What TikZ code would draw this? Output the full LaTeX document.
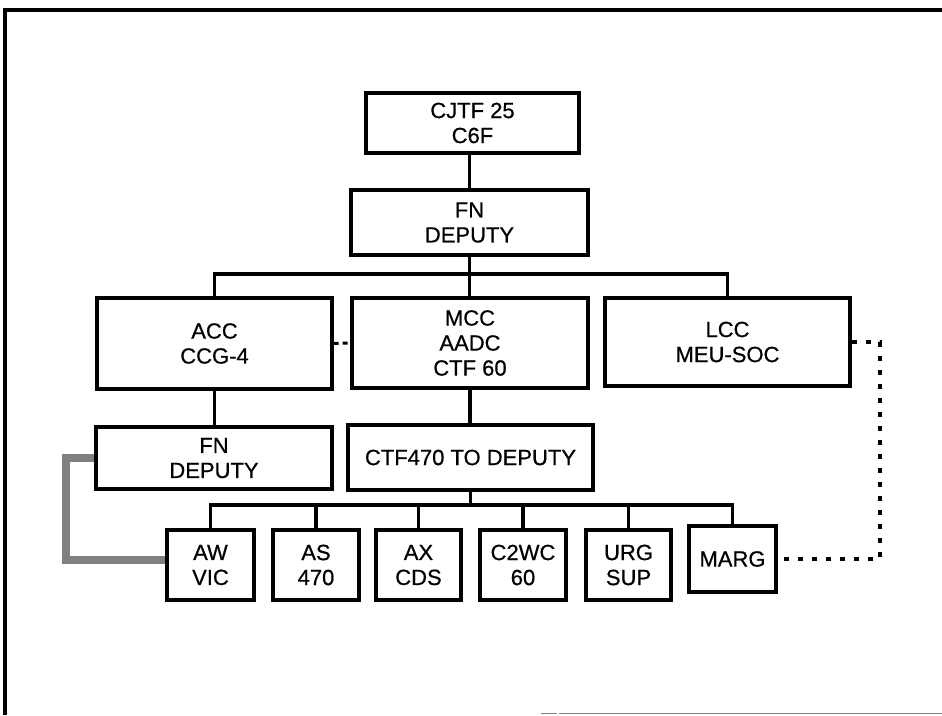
\documentclass[tikz,border=0pt]{standalone}
\usepackage{fontspec}
\setmainfont{Liberation Sans}
\newfontfamily\boxfont[FakeBold=0.6]{Liberation Sans}
\begin{document}
\begin{tikzpicture}[x=1pt,y=-1pt,
  box/.style={draw=black,line width=3.2pt,inner sep=0pt,align=center,
    font=\boxfont\fontsize{22}{25}\selectfont},
  link/.style={draw=black,line width=3.2pt},
  dashlink/.style={draw=black,line width=3pt,dash pattern=on 5pt off 4pt},
  dotlink/.style={draw=black,line width=3.3pt,dash pattern=on 5pt off 9pt},
  graylink/.style={draw=black!50,line width=8pt},
  grayedge/.style={draw=black!70,line width=8pt,dash pattern=on 1.5pt off 1.5pt},
  frameline/.style={draw=black,line width=3.5pt}]
\useasboundingbox (0,0) rectangle (942,715);
% frame
\coordinate (f0) at (5,10);
\coordinate (f1) at (942,10);
\coordinate (f2) at (5,715);
\draw[frameline] (f2) -- (f0) -- (f1);
\coordinate (b0) at (541,713.5);
\coordinate (b1) at (557,713.5);
\coordinate (b2) at (559,713.5);
\coordinate (b3) at (942,713.5);
\draw[gray,line width=1.5pt] (b0) -- (b1) (b2) -- (b3);
% boxes
\node[box,minimum width=213pt,minimum height=60pt] (top) at (472.5,123) {CJTF 25\\C6F};
\node[box,minimum width=237pt,minimum height=65pt] (fn1) at (469.5,222.5) {FN\\DEPUTY};
\node[box,minimum width=235pt,minimum height=91pt] (acc) at (214.5,343.5) {ACC\\CCG-4};
\node[box,minimum width=236pt,minimum height=90pt] (mcc) at (470,343) {MCC\\AADC\\CTF 60};
\node[box,minimum width=245pt,minimum height=88pt] (lcc) at (727.5,342) {LCC\\MEU-SOC};
\node[box,minimum width=236pt,minimum height=62pt] (fn2) at (214,458) {FN\\DEPUTY};
\node[box,minimum width=245pt,minimum height=65pt] (ctf) at (470.5,457.5) {CTF470 TO DEPUTY};
\node[box,minimum width=87pt,minimum height=70pt] (aw) at (210.5,565) {AW\\VIC};
\node[box,minimum width=86pt,minimum height=70pt] (as) at (316,565) {AS\\470};
\node[box,minimum width=85pt,minimum height=70pt] (ax) at (418.5,565) {AX\\CDS};
\node[box,minimum width=86pt,minimum height=70pt] (c2) at (523,565) {C2WC\\60};
\node[box,minimum width=85pt,minimum height=70pt] (urg) at (628.5,565) {URG\\SUP};
\node[box,minimum width=87pt,minimum height=66pt] (marg) at (732.5,559) {MARG};
% tree links
\draw[link] (fn1.north) -- (fn1.north |- top.south);
\coordinate (bus1) at (0,274);
\draw[link] (fn1.south) -- (fn1.south |- mcc.north);
\draw[link] (acc.north) -- (acc.north |- bus1) -- (lcc.north |- bus1) -- (lcc.north);
\draw[link] (acc.south) -- (acc.south |- fn2.north);
\draw[link] (mcc.south) -- (mcc.south |- ctf.north);
\coordinate (bus2) at (0,505);
\draw[link] (ctf.south) -- (ctf.south |- bus2);
\draw[link] (aw.north) -- (aw.north |- bus2) -- (marg.north |- bus2) -- (marg.north);
\foreach \n in {as,ax,c2,urg} \draw[link] (\n.north) -- (\n.north |- bus2);
% other links
\draw[dashlink] (acc.east) -- (mcc.west);
\coordinate (g1) at (66,458);
\coordinate (g2) at (66,560);
\draw[graylink] (fn2.west) -- (g1) -- (g2) -- (aw.west |- g2);
\coordinate (d1) at (880,450);
\draw[dotlink] (lcc.east) -| (d1) |- (marg.east);
\end{tikzpicture}
\end{document}
